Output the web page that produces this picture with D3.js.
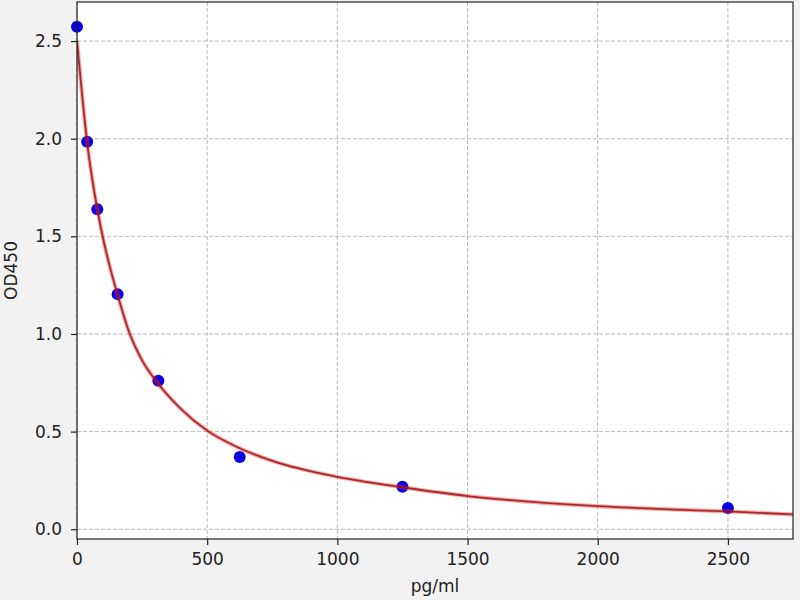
<!DOCTYPE html>
<html>
<head>
<meta charset="utf-8">
<script src="https://cdn.jsdelivr.net/npm/d3@7"></script>
<style>
  body { margin: 0; background: #f2f2f2; }
  svg { display: block; }
  text { font-family: "DejaVu Sans", sans-serif; }
</style>
</head>
<body>
<svg id="chart" width="800" height="600"></svg>
<script>
// standard concentrations (pg/ml) and measured OD450
const concentrations = [0, 39, 78, 156, 312.5, 625, 1250, 2500];
const odValues = [2.573, 1.984, 1.639, 1.204, 0.760, 0.370, 0.217, 0.109];

// fitted curve
const curveX = [0, 20, 39, 60, 78, 100, 125, 156, 200, 250, 312, 400, 500, 625, 750, 1000, 1250, 1500, 1750, 2000, 2250, 2500, 2750];
const curveY = [2.50, 2.22, 1.98, 1.78, 1.64, 1.49, 1.35, 1.20, 1.01, 0.865, 0.745, 0.615, 0.505, 0.415, 0.35, 0.268, 0.215, 0.17, 0.14, 0.118, 0.103, 0.091, 0.076];

const xTicks = [0, 500, 1000, 1500, 2000, 2500];
const yTicks = [0.0, 0.5, 1.0, 1.5, 2.0, 2.5];

const MARGIN = { top: 2, right: 7, bottom: 61, left: 77 };
const WIDTH = 800 - MARGIN.left - MARGIN.right;
const HEIGHT = 600 - MARGIN.top - MARGIN.bottom;
const FONT = "DejaVu Sans, sans-serif";

const svg = d3.select("#chart");
const g = svg.append("g")
  .attr("transform", "translate(" + MARGIN.left + "," + MARGIN.top + ")");

const x = d3.scaleLinear().domain([0, 2750]).range([0, WIDTH]);
const y = d3.scaleLinear().domain([-0.05, 2.70]).range([HEIGHT, 0]);

// plot background
g.append("rect")
  .attr("width", WIDTH)
  .attr("height", HEIGHT)
  .attr("fill", "#ffffff");

// grid
g.append("g").selectAll("line")
  .data(xTicks)
  .enter().append("line")
  .attr("x1", d => x(d)).attr("x2", d => x(d))
  .attr("y1", 0).attr("y2", HEIGHT)
  .attr("stroke", "#b0b0b0")
  .attr("stroke-width", 0.9)
  .attr("stroke-dasharray", "4,2");

g.append("g").selectAll("line")
  .data(yTicks)
  .enter().append("line")
  .attr("x1", 0).attr("x2", WIDTH)
  .attr("y1", d => y(d)).attr("y2", d => y(d))
  .attr("stroke", "#b0b0b0")
  .attr("stroke-width", 0.9)
  .attr("stroke-dasharray", "4,2");

// axes
const xAxis = g.append("g")
  .attr("transform", "translate(0," + HEIGHT + ")")
  .call(d3.axisBottom(x).tickValues(xTicks).tickSize(6).tickPadding(8).tickFormat(d3.format("d")));
const yAxis = g.append("g")
  .call(d3.axisLeft(y).tickValues(yTicks).tickSize(6).tickPadding(9).tickFormat(d3.format(".1f")));

[xAxis, yAxis].forEach(a => {
  a.attr("font-family", FONT).attr("font-size", 17);
  a.select(".domain").remove();
  a.selectAll("line").attr("stroke", "#222").attr("stroke-width", 1.2);
  a.selectAll("text").attr("fill", "#222");
});

// points
g.append("g").selectAll("circle")
  .data(concentrations)
  .enter().append("circle")
  .attr("cx", (d) => x(d))
  .attr("cy", (d, i) => y(odValues[i]))
  .attr("r", 6)
  .attr("fill", "#0a00e8");

// fitted curve
const line = d3.line()
  .x(d => x(d))
  .y((d, i) => y(curveY[i]))
  .curve(d3.curveMonotoneX);

g.append("clipPath").attr("id", "plotclip")
  .append("rect").attr("width", WIDTH).attr("height", HEIGHT);

g.append("path")
  .datum(curveX)
  .attr("clip-path", "url(#plotclip)")
  .attr("fill", "none")
  .attr("stroke", "#ff3030")
  .attr("stroke-opacity", 0.45)
  .attr("stroke-width", 4)
  .attr("d", line);

g.append("path")
  .datum(curveX)
  .attr("clip-path", "url(#plotclip)")
  .attr("fill", "none")
  .attr("stroke", "#8a1010")
  .attr("stroke-opacity", 0.8)
  .attr("stroke-width", 1.8)
  .attr("d", line);

// frame
g.append("rect")
  .attr("width", WIDTH)
  .attr("height", HEIGHT)
  .attr("fill", "none")
  .attr("stroke", "#222")
  .attr("stroke-width", 1.2);

// axis labels
svg.append("text")
  .attr("x", MARGIN.left + WIDTH / 2)
  .attr("y", 592)
  .attr("text-anchor", "middle")
  .attr("fill", "#222")
  .attr("font-family", FONT)
  .attr("font-size", 17)
  .text("pg/ml");

svg.append("text")
  .attr("transform", "translate(17," + (MARGIN.top + HEIGHT / 2) + ") rotate(-90)")
  .attr("text-anchor", "middle")
  .attr("fill", "#222")
  .attr("font-family", FONT)
  .attr("font-size", 17)
  .text("OD450");
</script>
</body>
</html>
